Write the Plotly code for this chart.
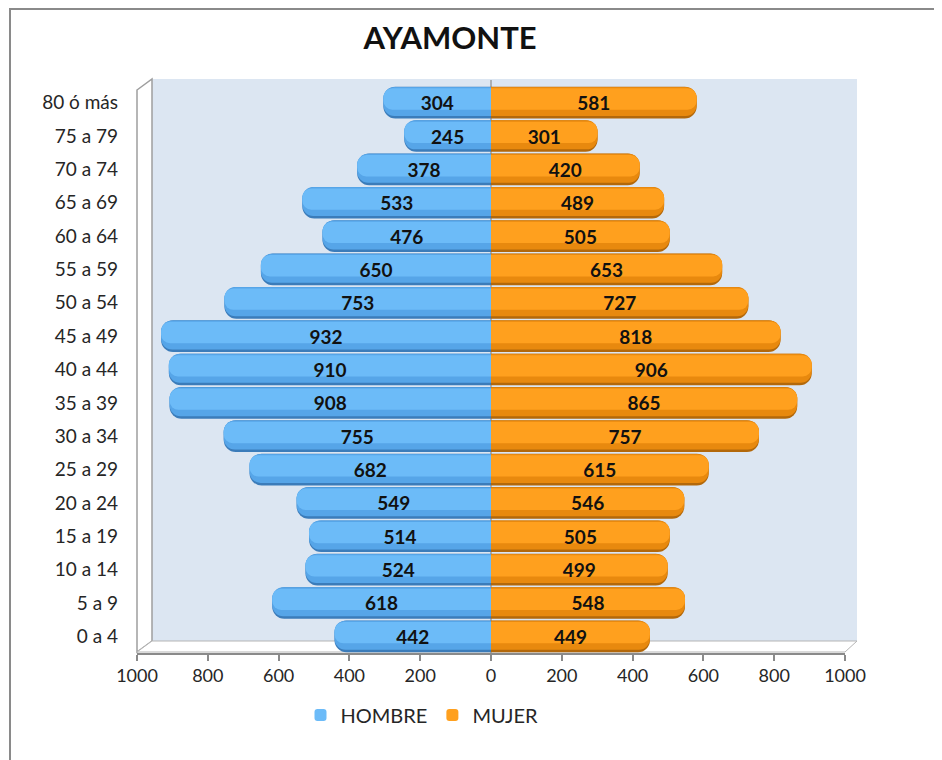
import plotly.graph_objects as go

categories = ["0 a 4", "5 a 9", "10 a 14", "15 a 19", "20 a 24", "25 a 29", "30 a 34",
              "35 a 39", "40 a 44", "45 a 49", "50 a 54", "55 a 59", "60 a 64", "65 a 69",
              "70 a 74", "75 a 79", "80 ó más"]
hombre = [442, 618, 524, 514, 549, 682, 755, 908, 910, 932, 753, 650, 476, 533, 378, 245, 304]
mujer = [449, 548, 499, 505, 546, 615, 757, 865, 906, 818, 727, 653, 505, 489, 420, 301, 581]
x_ticks = [-1000, -800, -600, -400, -200, 0, 200, 400, 600, 800, 1000]
x_ticktext = [str(abs(v)) for v in x_ticks]

# page is rendered with an 8px body margin, so figure = page - 8
OFF = 8
W, H = 942 - OFF, 760 - OFF
PL, PR, PT, PB = 137, 845, 86, 653          # plot area in page pixels
L, T = PL - OFF, PT - OFF
PW, PH = PR - PL, PB - PT
R, B = W - L - PW, H - T - PH
FONT = "Lato, 'Open Sans', sans-serif"


def px(x):
    return (x - PL) / PW


def py(y):
    return (PB - y) / PH


fig = go.Figure()

# cylinder-like shading layers: (width, upward shift, blue, orange, radius)
layers = [
    (0.95, 0.0, "#3B7CBA", "#B3680A", 12),
    (0.87, 0.035, "#56A5E8", "#E8890E", 11),
    (0.64, 0.11, "#6CBBF8", "#FFA01E", 9),
]
neg_h = [-v for v in hombre]
for i, (w, d, cb, co, r) in enumerate(layers):
    fig.add_trace(go.Bar(
        y=categories, x=neg_h, orientation="h", name="HOMBRE",
        width=w, offset=-w / 2 + d,
        marker=dict(color=cb, line=dict(width=0), cornerradius=r),
        showlegend=(i == len(layers) - 1), legendgroup="h", hoverinfo="skip"))
for i, (w, d, cb, co, r) in enumerate(layers):
    fig.add_trace(go.Bar(
        y=categories, x=mujer, orientation="h", name="MUJER",
        width=w, offset=-w / 2 + d,
        marker=dict(color=co, line=dict(width=0), cornerradius=r),
        showlegend=(i == len(layers) - 1), legendgroup="m", hoverinfo="skip"))

# data labels
for vals, xs in ((hombre, neg_h), (mujer, mujer)):
    fig.add_trace(go.Bar(
        y=categories, x=xs, orientation="h", width=0.95, offset=-0.475,
        marker=dict(color="rgba(0,0,0,0)", line=dict(width=0)),
        text=[str(v) for v in vals], textposition="inside", insidetextanchor="middle",
        constraintext="none",
        textfont=dict(family=FONT, size=19, color="#111111", weight="bold"),
        showlegend=False, hoverinfo="skip"))

shapes = [
    # outer frame
    dict(type="rect", xref="paper", yref="paper", x0=px(10), y0=py(9), x1=px(980), y1=py(800),
         line=dict(color="#8A8A8A", width=2), fillcolor="rgba(0,0,0,0)", layer="below"),
    # back wall background
    dict(type="rect", xref="paper", yref="paper", x0=px(152), x1=px(857), y0=py(641), y1=py(79),
         fillcolor="#DCE6F2", line=dict(width=0), layer="below"),
    # left side wall
    dict(type="path", xref="paper", yref="paper",
         path=f"M {px(137)},{py(90)} L {px(152)},{py(79)} L {px(152)},{py(641)} L {px(137)},{py(652)} Z",
         fillcolor="white", line=dict(color="#9E9E9E", width=1.5), layer="below"),
    # floor
    dict(type="path", xref="paper", yref="paper",
         path=f"M {px(137)},{py(652)} L {px(152)},{py(641)} L {px(857)},{py(641)} L {px(845)},{py(652)} Z",
         fillcolor="white", line=dict(color="#B5B5B5", width=1), layer="below"),
    # centre axis
    dict(type="line", xref="x", yref="paper", x0=0, x1=0, y0=0, y1=py(80),
         line=dict(color="#9E9E9E", width=1.5), layer="below"),
]

fig.update_layout(
    width=W, height=H,
    margin=dict(l=L, r=R, t=T, b=B, autoexpand=False),
    paper_bgcolor="white", plot_bgcolor="rgba(0,0,0,0)",
    barmode="overlay",
    font=dict(family=FONT, size=18, color="#262626"),
    title=dict(text="<b>AYAMONTE</b>", x=(450 - OFF) / W, xref="container", xanchor="center",
               y=1 - (38 - OFF) / H, yref="container", yanchor="middle",
               font=dict(family=FONT, size=31, color="#111111")),
    xaxis=dict(range=[-1000, 1000], tickvals=x_ticks, ticktext=x_ticktext,
               ticks="outside", ticklen=6, tickcolor="#8A8A8A", tickwidth=1.5,
               showline=True, linecolor="#8A8A8A", linewidth=1.5,
               showgrid=False, zeroline=False, fixedrange=True,
               tickfont=dict(family=FONT, size=18, color="#262626")),
    yaxis=dict(range=[-0.5, 16.5], categoryorder="array", categoryarray=categories,
               showgrid=False, zeroline=False, showline=False, ticks="",
               ticklabelstandoff=18,
               tickfont=dict(family=FONT, size=19, color="#262626")),
    legend=dict(orientation="h", xref="container", yref="container",
                x=(422 - OFF) / W, xanchor="center", y=1 - (715 - OFF) / H, yanchor="middle",
                font=dict(family=FONT, size=20, color="#262626"),
                itemwidth=30, tracegroupgap=0, bgcolor="rgba(0,0,0,0)"),
    shapes=shapes,
)

fig.write_html("out.html")
